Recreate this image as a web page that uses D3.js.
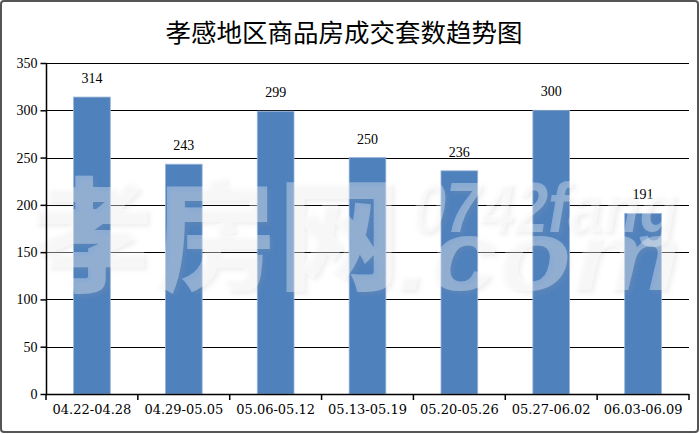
<!DOCTYPE html>
<html><head><meta charset="utf-8">
<script src="https://cdn.jsdelivr.net/npm/d3@7/dist/d3.min.js"></script>
<style>body{margin:0;background:#fff}svg{display:block}</style>
</head><body><svg id="c" width="700" height="434"></svg>
<script>
const categories = ["04.22-04.28","04.29-05.05","05.06-05.12","05.13-05.19","05.20-05.26","05.27-06.02","06.03-06.09"];
const values = [314,243,299,250,236,300,191];
const yTicks = [0,50,100,150,200,250,300,350];
const title = "孝感地区商品房成交套数趋势图";

const svg = d3.select("#c");
const defs = svg.append("defs");
const f = defs.append("filter").attr("id","sh").attr("x","-10%").attr("y","-10%").attr("width","130%").attr("height","130%");
f.append("feDropShadow").attr("dx",3).attr("dy",3).attr("stdDeviation",2).attr("flood-color","#999").attr("flood-opacity",0.45);

svg.append("rect").attr("x",1).attr("y",1).attr("width",697).attr("height",431).attr("rx",3)
  .attr("fill","#fff").attr("stroke","#555").attr("stroke-width",2);

svg.append("text").attr("x",344).attr("y",42).attr("text-anchor","middle")
  .attr("font-family","'Noto Sans CJK SC'").attr("font-size",25.5).attr("fill","#000").text(title);

const m = {l:46, r:689, t:63, b:394};
const x = d3.scaleBand().domain(categories).range([m.l, m.r]).paddingInner(0.6).paddingOuter(0.3);
const y = d3.scaleLinear().domain([0,350]).range([m.b, m.t]);

const g = svg.append("g");
g.selectAll("line.grid").data(yTicks.filter(d=>d>0)).join("line")
  .attr("x1",m.l).attr("x2",m.r).attr("y1",d=>Math.round(y(d))+0.5).attr("y2",d=>Math.round(y(d))+0.5)
  .attr("stroke","#000").attr("stroke-width",1);

g.selectAll("rect.bar").data(values).join("rect")
  .attr("x",(d,i)=>x(categories[i])).attr("width",x.bandwidth())
  .attr("y",d=>y(d)).attr("height",d=>y(0)-y(d))
  .attr("fill","#4F81BD").attr("stroke","#9db7d9").attr("stroke-width",0.8);

g.selectAll("text.val").data(values).join("text")
  .attr("x",(d,i)=>x(categories[i])+x.bandwidth()/2).attr("y",d=>y(d)-14)
  .attr("text-anchor","middle").attr("font-family","'Liberation Serif'").attr("font-size",14)
  .attr("fill","#000").text(d=>d);

// watermark
const wm = svg.append("g").attr("filter","url(#sh)").attr("fill","#fff").attr("fill-opacity",0.32);
wm.append("text").attr("x",30).attr("y",280).attr("font-family","'Noto Sans CJK SC'").attr("font-weight",900)
  .attr("font-size",122).attr("textLength",370).attr("lengthAdjust","spacing").text("孝房网");
wm.append("text").attr("x",412).attr("y",232).attr("font-family","'Liberation Sans'").attr("font-weight","bold")
  .attr("font-style","italic").attr("font-size",70).attr("textLength",265).attr("lengthAdjust","spacingAndGlyphs").text("0742fang");
wm.append("text").attr("x",395).attr("y",290).attr("font-family","'Liberation Sans'").attr("font-weight","bold")
  .attr("font-style","italic").attr("font-size",100).attr("textLength",285).attr("lengthAdjust","spacingAndGlyphs").text(".com");

const yAxis = svg.append("g").attr("transform",`translate(${m.l+0.5},0)`)
  .call(d3.axisLeft(y).tickValues(yTicks).tickSize(6).tickPadding(3));
yAxis.select(".domain").attr("stroke","#000").attr("stroke-width",1.5).attr("d",`M0,${m.t}V${m.b}`);
yAxis.selectAll(".tick line").attr("stroke","#000").attr("stroke-width",1.5);
yAxis.selectAll("text").attr("font-family","'Liberation Serif'").attr("font-size",14).attr("fill","#000");

const xAxis = svg.append("g").attr("transform",`translate(0,${m.b+0.5})`)
  .call(d3.axisBottom(x).tickSize(0).tickPadding(10));
xAxis.select(".domain").attr("stroke","#000").attr("stroke-width",1.5).attr("d",`M${m.l},0H${m.r}`);
xAxis.selectAll("text").attr("font-family","'DejaVu Serif'").attr("font-size",13).attr("fill","#000");
svg.append("g").selectAll("line").data(d3.range(categories.length+1)).join("line")
  .attr("x1",i=>m.l+i*(m.r-m.l)/categories.length).attr("x2",i=>m.l+i*(m.r-m.l)/categories.length)
  .attr("y1",m.b).attr("y2",m.b+6).attr("stroke","#000").attr("stroke-width",1.5);
</script></body></html>
